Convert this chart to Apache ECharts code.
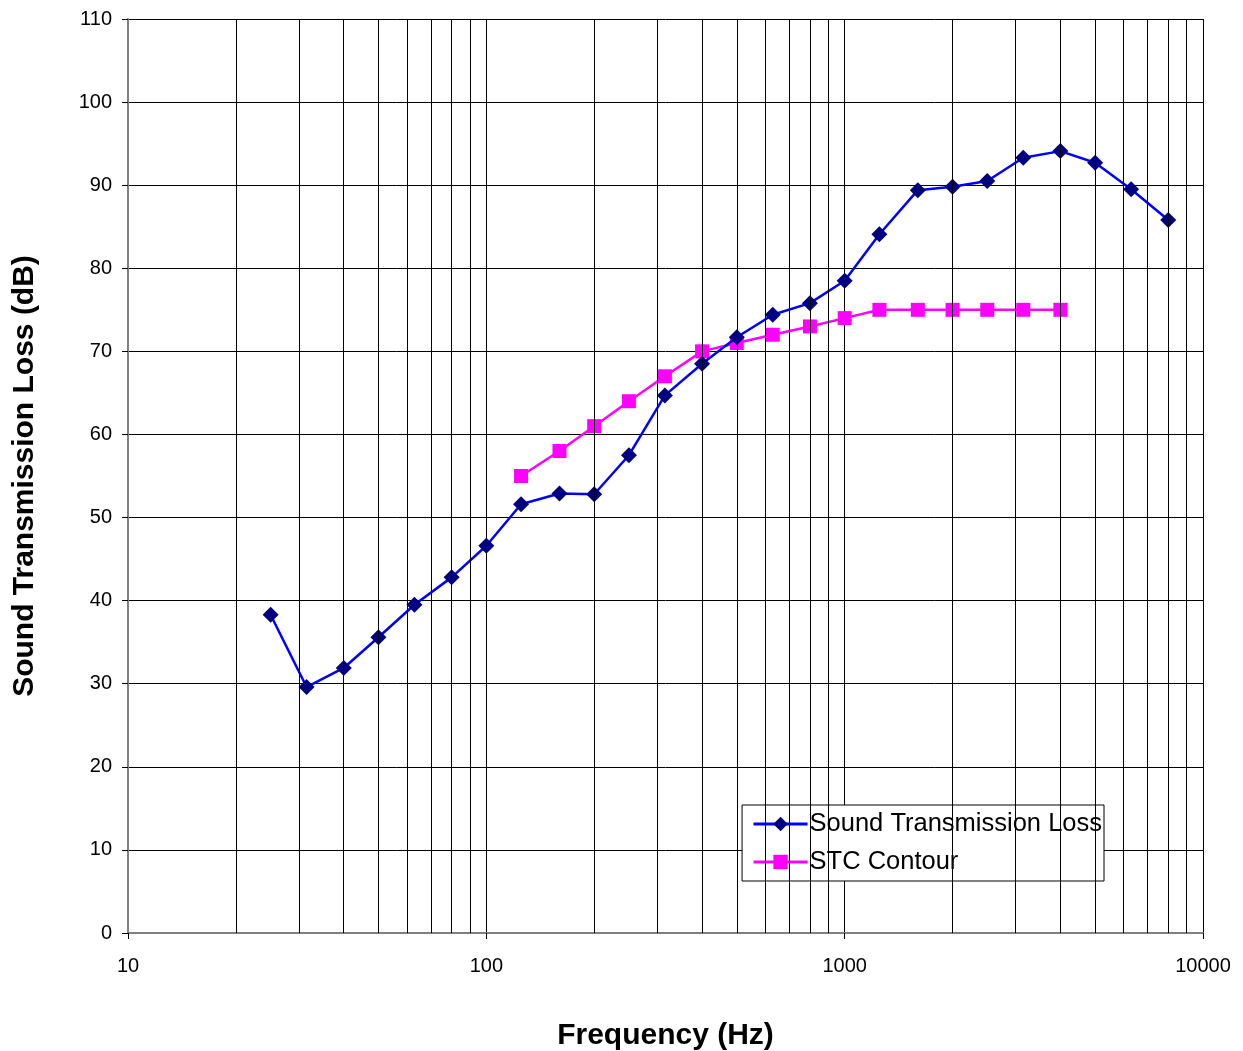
<!DOCTYPE html>
<html>
<head>
<meta charset="utf-8">
<script src="https://cdn.jsdelivr.net/npm/echarts@6/dist/echarts.min.js"></script>
<style>
html,body{margin:0;padding:0;background:#fff;}
#chart{width:1243px;height:1051px;}
</style>
</head>
<body>
<div id="chart"></div>
<script>
// 1/3 octave band centre frequencies (Hz)
var freqs = [25, 31.5, 40, 50, 63, 80, 100, 125, 160, 200, 250, 315, 400, 500, 630, 800,
             1000, 1250, 1600, 2000, 2500, 3150, 4000, 5000, 6300, 8000];
var stl = [38.3, 29.6, 31.9, 35.6, 39.5, 42.8, 46.6, 51.6, 52.9, 52.8, 57.5, 64.7, 68.5, 71.7, 74.4, 75.8,
           78.5, 84.1, 89.4, 89.8, 90.5, 93.3, 94.1, 92.7, 89.5, 85.8];
var stcFreqs = [125, 160, 200, 250, 315, 400, 500, 630, 800, 1000, 1250, 1600, 2000, 2500, 3150, 4000];
var stc = [55, 58, 61, 64, 67, 70, 71, 72, 73, 74, 75, 75, 75, 75, 75, 75];
// log grid minor lines (2..9 x each decade)
var minorX = [20, 30, 40, 50, 60, 70, 80, 90, 200, 300, 400, 500, 600, 700, 800, 900,
              2000, 3000, 4000, 5000, 6000, 7000, 8000, 9000];

function pairs(xs, ys) {
    return xs.map(function (x, i) { return [x, ys[i]]; });
}

var font = 'Liberation Sans, Arial, sans-serif';
var chart = echarts.init(document.getElementById('chart'));
var option = {
    animation: false,
    backgroundColor: '#fff',
    grid: { left: 128, right: 40, top: 19, bottom: 118, outerBoundsMode: 'none', containLabel: false },
    legend: {
        right: 139, top: 805,
        orient: 'vertical',
        backgroundColor: '#fff',
        borderColor: '#000',
        borderWidth: 1,
        padding: [6, 2, 6, 10],
        itemGap: 12,
        itemWidth: 54,
        itemHeight: 18,
        lineStyle: { width: 3 },
        textStyle: { fontFamily: font, fontSize: 25.5, color: '#000', padding: [0, 0, 0, -3] },
        data: ['Sound Transmission Loss', 'STC Contour']
    },
    xAxis: {
        type: 'log',
        logBase: 10,
        min: 10, max: 10000,
        name: 'Frequency (Hz)',
        nameLocation: 'middle',
        nameGap: 88,
        nameTextStyle: { fontFamily: font, fontSize: 30, fontWeight: 'bold', color: '#000' },
        axisLine: { lineStyle: { color: '#808080', width: 2 } },
        axisTick: { length: 6, lineStyle: { color: '#000' } },
        axisLabel: { fontFamily: font, fontSize: 20, color: '#000', margin: 23,
                     formatter: function (v) { return String(v); } },
        splitLine: { show: true, lineStyle: { color: '#000', width: 1 } }
    },
    yAxis: {
        type: 'value',
        min: 0, max: 110, interval: 10,
        name: 'Sound Transmission Loss (dB)',
        nameLocation: 'middle',
        nameGap: 88,
        nameTextStyle: { fontFamily: font, fontSize: 30, fontWeight: 'bold', color: '#000' },
        axisLine: { show: true, lineStyle: { color: '#808080', width: 2 } },
        axisTick: { show: true, inside: false, length: 6, lineStyle: { color: '#000' } },
        axisLabel: { fontFamily: font, fontSize: 20, color: '#000', margin: 16 },
        splitLine: { show: true, lineStyle: { color: '#000', width: 1 } }
    },
    series: [
        {
            name: 'grid',
            type: 'line',
            data: [],
            silent: true,
            markLine: {
                silent: true,
                symbol: 'none',
                label: { show: false },
                lineStyle: { color: '#000', width: 1, type: 'solid' },
                data: minorX.map(function (v) { return { xAxis: v }; })
            }
        },
        {
            name: 'Sound Transmission Loss',
            type: 'line',
            data: pairs(freqs, stl),
            symbol: 'diamond',
            symbolSize: 16,
            itemStyle: { color: '#000080' },
            lineStyle: { color: '#0000ff', width: 2.5 },
            z: 4
        },
        {
            name: 'STC Contour',
            type: 'line',
            data: pairs(stcFreqs, stc),
            symbol: 'rect',
            symbolSize: 14,
            itemStyle: { color: '#ff00ff' },
            lineStyle: { color: '#ff00ff', width: 2.5 },
            z: 3
        }
    ]
};
chart.setOption(option);
</script>
</body>
</html>
